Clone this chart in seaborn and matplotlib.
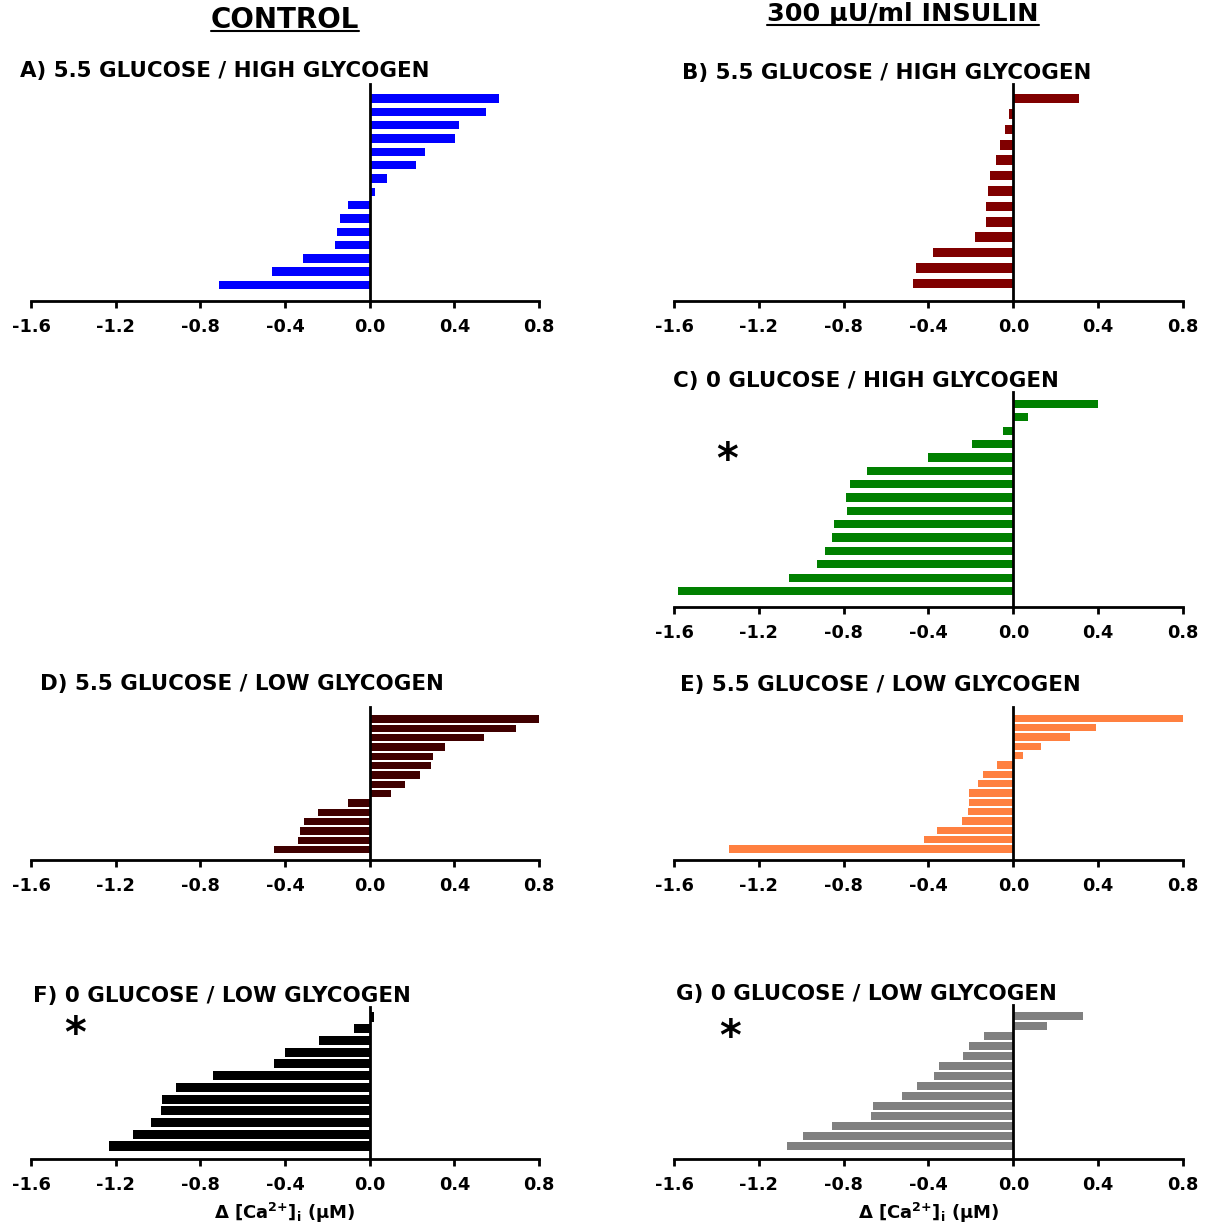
import numpy as np
import pandas as pd
import matplotlib
matplotlib.use("Agg")
import matplotlib.pyplot as plt
import seaborn as sns
from matplotlib.lines import Line2D

# ---------------- data ----------------
a_vals = [0.61, 0.55, 0.42, 0.405, 0.26, 0.22, 0.08, 0.025,
          -0.10, -0.14, -0.155, -0.165, -0.315, -0.46, -0.71]
b_vals = [0.31, -0.02, -0.04, -0.065, -0.08, -0.11, -0.12, -0.128,
          -0.13, -0.18, -0.38, -0.46, -0.475]
c_vals = [0.40, 0.07, -0.05, -0.195, -0.40, -0.69, -0.77, -0.79,
          -0.785, -0.845, -0.855, -0.89, -0.925, -1.06, -1.58]
d_vals = [0.80, 0.69, 0.54, 0.355, 0.30, 0.29, 0.24, 0.165, 0.10,
          -0.10, -0.245, -0.31, -0.33, -0.34, -0.45]
e_vals = [0.80, 0.39, 0.265, 0.13, 0.045, -0.075, -0.145, -0.165,
          -0.21, -0.21, -0.215, -0.24, -0.36, -0.42, -1.34]
f_vals = [0.02, -0.075, -0.24, -0.40, -0.45, -0.74, -0.915, -0.98,
          -0.985, -1.035, -1.12, -1.23]
g_vals = [0.33, 0.16, -0.14, -0.21, -0.235, -0.35, -0.375, -0.455,
          -0.525, -0.66, -0.67, -0.855, -0.99, -1.065]

panel_titles = {
    "A": "A) 5.5 GLUCOSE / HIGH GLYCOGEN",
    "B": "B) 5.5 GLUCOSE / HIGH GLYCOGEN",
    "C": "C) 0 GLUCOSE / HIGH GLYCOGEN",
    "D": "D) 5.5 GLUCOSE / LOW GLYCOGEN",
    "E": "E) 5.5 GLUCOSE / LOW GLYCOGEN",
    "F": "F) 0 GLUCOSE / LOW GLYCOGEN",
    "G": "G) 0 GLUCOSE / LOW GLYCOGEN",
}
panel_values = {"A": a_vals, "B": b_vals, "C": c_vals, "D": d_vals,
                "E": e_vals, "F": f_vals, "G": g_vals}
panel_colors = {"A": "#0000FF", "B": "#800000", "C": "#008000", "D": "#400000",
                "E": "#FF8040", "F": "#000000", "G": "#808080"}
significant = ["C", "F", "G"]

tick_values = [-1.6, -1.2, -0.8, -0.4, 0.0, 0.4, 0.8]
tick_labels = ["-1.6", "-1.2", "-0.8", "-0.4", "0.0", "0.4", "0.8"]
header_left = "CONTROL"
header_right = "300 µU/ml INSULIN"
x_label = r"Δ [Ca$^{\mathbf{2{+}}}$]$_{\mathbf{i}}$ (µM)"

# ---------------- style ----------------
sns.set_style("white")
plt.rcParams["font.family"] = ["DejaVu Sans"]
plt.rcParams["font.weight"] = "bold"
plt.rcParams["text.color"] = "black"
plt.rcParams["axes.labelcolor"] = "black"
plt.rcParams["xtick.color"] = "black"
plt.rcParams["axes.unicode_minus"] = False
plt.rcParams["mathtext.fontset"] = "dejavusans"

W, H = 1205, 1224
fig = plt.figure(figsize=(W / 100, H / 100), dpi=100)

# layout in pixels (figure coordinates from top-left)
layout = {
    "A": dict(x0=31, x1=539, top=84, bottom=301, first=98.5, last=285, w=0.63, tx=20, ty=71),
    "B": dict(x0=674, x1=1183, top=84, bottom=301, first=98.5, last=283.5, w=0.62, tx=682, ty=73),
    "C": dict(x0=674, x1=1183, top=392, bottom=607, first=404, last=591, w=0.62, tx=673, ty=381),
    "D": dict(x0=31, x1=539, top=707, bottom=860, first=719, last=849.7, w=0.80, tx=40, ty=684),
    "E": dict(x0=674, x1=1183, top=707, bottom=860, first=718.3, last=849, w=0.76, tx=680, ty=685),
    "F": dict(x0=31, x1=539, top=1007, bottom=1159, first=1017, last=1146, w=0.77, tx=33, ty=996),
    "G": dict(x0=674, x1=1183, top=1005, bottom=1159, first=1015.8, last=1146, w=0.84, tx=676, ty=994),
}
star_pos = {"C": (727, 453), "F": (75, 1027), "G": (730, 1030)}


def fx(x):
    return x / W


def fy(y):
    return 1 - y / H


for key in ["A", "B", "C", "D", "E", "F", "G"]:
    L = layout[key]
    vals = panel_values[key]
    n = len(vals)
    df = pd.DataFrame({"cell": [str(i) for i in range(n)], "value": vals})
    ax = fig.add_axes([fx(L["x0"]), fy(L["bottom"]),
                       (L["x1"] - L["x0"]) / W, (L["bottom"] - L["top"]) / H])
    sns.barplot(data=df, x="value", y="cell", orient="h", color=panel_colors[key],
                saturation=1, width=L["w"], linewidth=0, ax=ax)
    s = (L["last"] - L["first"]) / (n - 1)
    ax.set_ylim((n - 1) + (L["bottom"] - L["last"]) / s, -(L["first"] - L["top"]) / s)
    ax.set_xlim(-1.6, 0.8)
    ax.set_xticks(tick_values, tick_labels)
    ax.set_yticks([])
    ax.set_ylabel("")
    ax.set_xlabel("")
    ax.patch.set_visible(False)
    for sp in ["top", "right"]:
        ax.spines[sp].set_visible(False)
    ax.spines["left"].set_position(("data", 0))
    ax.spines["left"].set_linewidth(2.0)
    ax.spines["left"].set_color("black")
    ax.spines["left"].set_zorder(5)
    ax.spines["bottom"].set_linewidth(2.0)
    ax.spines["bottom"].set_color("black")
    ax.tick_params(axis="x", bottom=True, direction="out", length=5, width=2,
                   color="black", labelsize=12.8, pad=7, labelcolor="black")
    for lbl in ax.get_xticklabels():
        lbl.set_fontweight("bold")
    if key in ("F", "G"):
        ax.set_xlabel(x_label, fontsize=13, fontweight="bold", labelpad=5, color="black")
    fig.text(fx(L["tx"]), fy(L["ty"]), panel_titles[key], fontsize=15.4,
             fontweight="bold", ha="left", va="center", color="black")
    if key in significant:
        sx, sy = star_pos[key]
        fig.text(fx(sx), fy(sy + 20), "*", fontsize=30, fontweight="bold",
                 ha="center", va="baseline", color="black")

t1 = fig.text(fx(285), fy(28), header_left, fontsize=20, fontweight="bold",
              ha="center", va="baseline", color="black")
t2 = fig.text(fx(903), fy(21), header_right, fontsize=18.3, fontweight="bold",
              ha="center", va="baseline", color="black")

fig.canvas.draw()
renderer = fig.canvas.get_renderer()
for t, uy in [(t1, 31), (t2, 25)]:
    bb = t.get_window_extent(renderer)
    fig.add_artist(Line2D([bb.x0 / W, bb.x1 / W], [fy(uy), fy(uy)],
                          transform=fig.transFigure, color="black", linewidth=1.5))

fig.savefig("out.png", dpi=100, facecolor="white")
